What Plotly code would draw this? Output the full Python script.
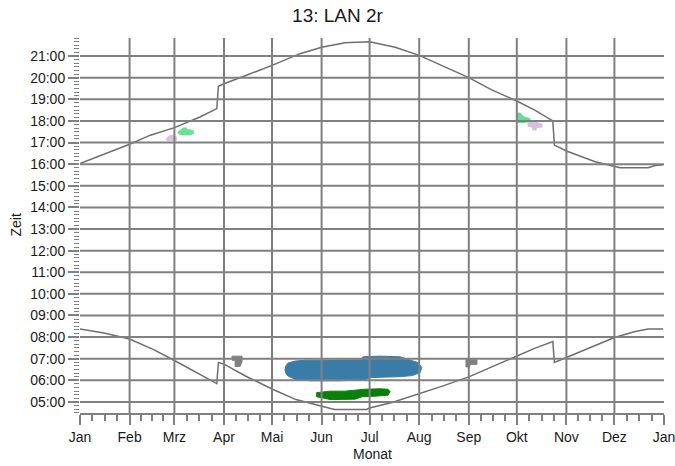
import plotly.graph_objects as go

# ---------------- data ----------------
month_starts = [0, 31, 59, 90, 120, 151, 181, 212, 243, 273, 304, 334, 365]
month_labels = ["Jan", "Feb", "Mrz", "Apr", "Mai", "Jun", "Jul", "Aug", "Sep", "Okt", "Nov", "Dez", "Jan"]
hour_ticks = list(range(5, 22))
hour_labels = [f"{h:02d}:00" for h in hour_ticks]

# sunset (day of year, local time in hours)
sunset_day = [0, 31, 44, 59, 75, 85.5, 86.5, 90, 104, 120, 137.5, 151, 162.5, 165.5, 181, 184.5,
              197, 212, 226, 243, 257, 273, 284.5, 295.5, 296.5, 304, 322, 334, 337.5, 355, 359.5, 364.5]
sunset_hour = [16.03, 16.92, 17.34, 17.69, 18.18, 18.57, 19.60, 19.72, 20.11, 20.57, 21.11, 21.41, 21.57, 21.61, 21.66, 21.60,
               21.41, 21.03, 20.57, 20.00, 19.45, 18.92, 18.49, 18.00, 16.88, 16.61, 16.11, 15.92, 15.83, 15.83, 15.94, 15.97]

# sunrise
sunrise_day = [0, 15, 31, 46, 59, 75, 85.5, 86.5, 90, 104, 120, 135, 151, 159, 179, 181,
               195, 212, 226, 243, 257, 273, 284.5, 295.5, 296.5, 304, 320, 334, 347, 355, 364.5]
sunrise_hour = [8.37, 8.19, 7.91, 7.42, 6.92, 6.26, 5.85, 6.83, 6.75, 6.18, 5.60, 5.11, 4.80, 4.65, 4.65, 4.72,
                4.98, 5.37, 5.72, 6.16, 6.62, 7.11, 7.49, 7.80, 6.83, 7.06, 7.54, 7.98, 8.26, 8.37, 8.37]

# activity clusters (outline: day of year, hour)
blue_day = [128.1, 128.75, 130, 134.4, 140.6, 156.3, 175, 176.9, 187.5, 200, 206.3, 211.3, 213.6,
            212.5, 207.5, 200, 190.6, 181.3, 178.1, 162.5, 143.8, 134.4, 130, 128.75]
blue_hour = [6.49, 6.68, 6.80, 6.89, 6.93, 6.95, 6.95, 7.09, 7.12, 7.09, 6.95, 6.82, 6.59,
             6.35, 6.22, 6.17, 6.15, 6.12, 6.03, 5.98, 5.98, 6.05, 6.20, 6.31]

green_day = [147.9, 151.3, 156.3, 165.6, 173.8, 178.1, 187.5, 192.5, 193.8,
             192.5, 184.4, 176.3, 171.9, 156.3, 151.3, 147.9]
green_hour = [5.43, 5.45, 5.50, 5.50, 5.55, 5.59, 5.61, 5.59, 5.48,
              5.31, 5.27, 5.24, 5.13, 5.11, 5.20, 5.24]

grey1_day = [95, 101.25, 101.25, 100, 97, 96.9, 95]
grey1_hour = [7.12, 7.12, 6.85, 6.64, 6.64, 6.93, 6.93]

grey2_day = [241.25, 248.1, 248.1, 244, 243.5, 241.25]
grey2_hour = [6.95, 6.95, 6.74, 6.74, 6.62, 6.62]

pink1_day = [53.75, 55.5, 58.5, 60.5, 60.2, 57, 54.5]
pink1_hour = [17.15, 17.30, 17.33, 17.25, 17.10, 17.07, 17.08]

lgreen1_day = [61.4, 63, 64.5, 66.5, 67, 70.8, 70.8, 68, 63, 61.4]
lgreen1_hour = [17.50, 17.60, 17.67, 17.68, 17.60, 17.56, 17.40, 17.35, 17.36, 17.42]

lgreen2_day = [272.9, 275, 277, 281.25, 281.25, 277, 272.9]
lgreen2_hour = [18.35, 18.37, 18.20, 18.10, 17.97, 17.92, 17.93]

pink2_day = [280, 285, 286, 288.75, 288.75, 285.5, 285, 283, 282.5, 280]
pink2_hour = [18.00, 18.02, 17.90, 17.85, 17.72, 17.70, 17.58, 17.58, 17.72, 17.75]

# ---------------- styles ----------------
GRID = "#808080"
CURVE = "#6e6e6e"
TXT = "#1a1a1a"
FONT = "Liberation Sans, Arial, sans-serif"

W, H = 675, 466

fig = go.Figure()

def blob(xs, ys, color):
    fig.add_trace(go.Scatter(x=xs + xs[:1], y=ys + ys[:1], mode="lines", fill="toself",
                             fillcolor=color, line=dict(color=color, width=1),
                             hoverinfo="skip", showlegend=False))

blob(blue_day, blue_hour, "#3a7ca8")
blob(green_day, green_hour, "#0a800a")
blob(grey1_day, grey1_hour, "#7f7f7f")
blob(grey2_day, grey2_hour, "#7f7f7f")
blob(pink1_day, pink1_hour, "#d8c4da")
blob(lgreen1_day, lgreen1_hour, "#6ae196")
blob(lgreen2_day, lgreen2_hour, "#66de90")
blob(pink2_day, pink2_hour, "#d6c2d8")

for xs, ys in [(sunset_day, sunset_hour), (sunrise_day, sunrise_hour)]:
    fig.add_trace(go.Scatter(x=xs, y=ys, mode="lines", line=dict(color=CURVE, width=1.5),
                             hoverinfo="skip", showlegend=False))

# grid drawn above the data
shapes = []
for h in hour_ticks:
    shapes.append(dict(type="line", xref="paper", x0=0, x1=1, yref="y", y0=h, y1=h,
                       line=dict(color=GRID, width=2), layer="above"))
for m in month_starts[1:-1]:
    shapes.append(dict(type="line", xref="x", x0=m, x1=m, yref="paper", y0=0, y1=1,
                       line=dict(color=GRID, width=2), layer="above"))

# minor tick positions
x_minor = []
for a, b in zip(month_starts[:-1], month_starts[1:]):
    x_minor += [a + k * (b - a) / 4 for k in (1, 2, 3)]
y_minor = [k / 6 for k in range(27, 132)]

fig.update_layout(
    width=W, height=H,
    margin=dict(l=80, r=11, t=38, b=53, autoexpand=False),
    paper_bgcolor="white", plot_bgcolor="white",
    font=dict(family=FONT, size=14, color=TXT),
    title=dict(text="13: LAN 2r", x=0.5, xref="container", xanchor="center",
               y=1 - 15 / H, yref="container", yanchor="middle",
               font=dict(size=19, color=TXT, family=FONT)),
    shapes=shapes,
    showlegend=False,
    annotations=[
        dict(text="Zeit", xref="paper", yref="paper", x=0, y=0.5, xshift=-65,
             textangle=-90, showarrow=False, xanchor="center", yanchor="middle",
             font=dict(size=14, color=TXT)),
        dict(text="Monat", xref="paper", yref="paper", x=0.5, y=0, yshift=-41,
             showarrow=False, xanchor="center", yanchor="middle",
             font=dict(size=14, color=TXT)),
    ],
)

fig.update_xaxes(
    range=[0, 365], tickmode="array", tickvals=month_starts, ticktext=month_labels,
    ticks="outside", ticklen=10, tickwidth=2, tickcolor=GRID, automargin=False,
    showgrid=False, zeroline=False, showline=True, linecolor=GRID, linewidth=2,
    layer="above traces", ticklabelstandoff=0, ticklabeloverflow="allow",
    minor=dict(tickmode="array", tickvals=x_minor, ticks="outside", ticklen=6,
               tickwidth=1.5, tickcolor=GRID, showgrid=False),
)
fig.update_yaxes(
    range=[4.49, 21.835], tickmode="array", tickvals=hour_ticks, ticktext=hour_labels,
    ticks="outside", ticklen=11, tickwidth=1.5, tickcolor=GRID, automargin=False,
    showgrid=False, zeroline=False, showline=False,
    minor=dict(tickmode="array", tickvals=y_minor, ticks="outside", ticklen=5,
               tickwidth=1.2, tickcolor=GRID, showgrid=False),
)

# remove the default page margin so the figure fills the 675x466 window exactly
fig.write_html("out.html", config={"displayModeBar": False},
               post_script="document.body.style.margin='0';document.body.style.overflow='hidden';")
